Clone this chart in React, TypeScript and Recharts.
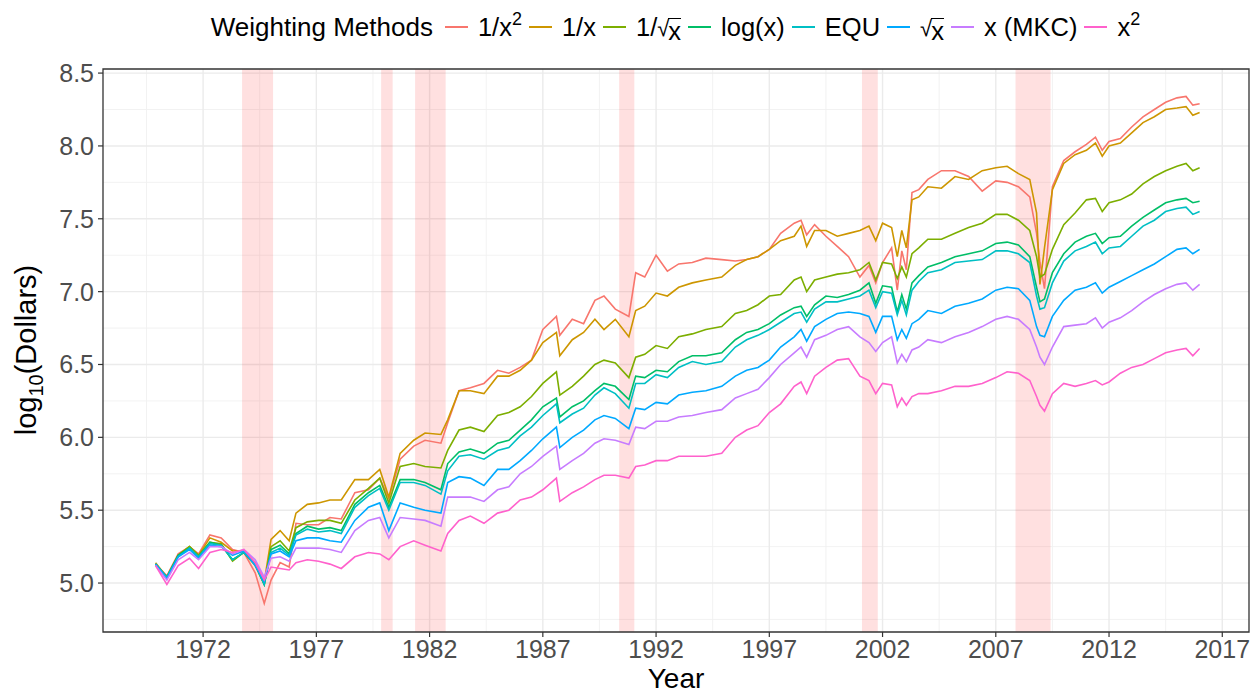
import React from "react";
import {
  LineChart,
  Line,
  XAxis,
  YAxis,
  CartesianGrid,
  ReferenceArea,
  Legend,
} from "recharts";

const FONT = '"Liberation Sans", Arial, Helvetica, sans-serif';

// time axis, in the axis' own year units
const years = [
  1969.9, 1970.4, 1970.9, 1971.4, 1971.8, 1972.3, 1972.8, 1973.3, 1973.8, 1974.3,
  1974.7, 1975.0, 1975.4, 1975.8, 1976.1, 1976.6, 1977.1, 1977.6, 1978.1, 1978.7,
  1979.3, 1979.8, 1980.2, 1980.7, 1981.3, 1981.8, 1982.5, 1982.8, 1983.3, 1983.8,
  1984.4, 1985.0, 1985.5, 1986.0, 1986.5, 1987.0, 1987.6, 1987.75, 1988.3, 1988.8,
  1989.3, 1989.7, 1990.2, 1990.8, 1991.1, 1991.5, 1992.0, 1992.5, 1993.0, 1993.6,
  1994.2, 1994.9, 1995.5, 1996.0, 1996.5, 1997.0, 1997.5, 1998.1, 1998.4, 1998.65,
  1999.0, 1999.5, 2000.0, 2000.5, 2001.0, 2001.4, 2001.7, 2002.0, 2002.4, 2002.65,
  2002.85, 2003.05, 2003.3, 2003.6, 2004.0, 2004.6, 2005.2, 2005.8, 2006.4, 2007.0,
  2007.5, 2008.0, 2008.5, 2008.8, 2008.95, 2009.15, 2009.5, 2010.0, 2010.5, 2011.0,
  2011.4, 2011.7, 2012.0, 2012.5, 2013.0, 2013.5, 2014.0, 2014.5, 2015.0, 2015.4,
  2015.7, 2016.0,
];

const invSquare = [
  5.13, 5.05, 5.2, 5.25, 5.2, 5.33, 5.31, 5.23, 5.21, 5.07,
  4.86, 5.02, 5.14, 5.11, 5.41, 5.4, 5.4, 5.45, 5.44, 5.62,
  5.64, 5.72, 5.58, 5.85, 5.94, 5.98, 5.96, 6.1, 6.32, 6.34,
  6.37, 6.46, 6.44, 6.48, 6.53, 6.74, 6.83, 6.7, 6.81, 6.78,
  6.94, 6.97, 6.88, 6.83, 7.13, 7.1, 7.25, 7.14, 7.19, 7.2,
  7.23, 7.22, 7.21, 7.22, 7.24, 7.29, 7.4, 7.47, 7.49, 7.39,
  7.46, 7.38, 7.31, 7.24, 7.1, 7.18, 7.06, 7.2, 7.3, 7.01,
  7.28, 7.15, 7.68, 7.7, 7.77, 7.83, 7.83, 7.79, 7.69, 7.76,
  7.75, 7.72, 7.65, 7.4, 7.2, 7.02, 7.72, 7.9, 7.96, 8.01,
  8.06, 7.97, 8.03, 8.05, 8.13, 8.2, 8.25, 8.3, 8.33, 8.34,
  8.28, 8.29,
];

const inverse = [
  5.14, 5.04, 5.19, 5.25, 5.19, 5.31, 5.28, 5.22, 5.22, 5.14,
  5.01, 5.3, 5.36, 5.29, 5.48, 5.54, 5.55, 5.57, 5.57, 5.71,
  5.71, 5.78, 5.59, 5.89, 5.98, 6.03, 6.02, 6.12, 6.32, 6.32,
  6.3, 6.42, 6.42, 6.46, 6.53, 6.65, 6.72, 6.56, 6.67, 6.72,
  6.81, 6.74, 6.81, 6.69, 6.87, 6.9, 6.99, 6.97, 7.03, 7.06,
  7.08, 7.1, 7.18, 7.22, 7.24, 7.29, 7.35, 7.38, 7.45, 7.31,
  7.42, 7.42, 7.38, 7.4, 7.42, 7.45, 7.35, 7.47, 7.44, 7.24,
  7.42, 7.3, 7.63, 7.65, 7.72, 7.71, 7.79, 7.77, 7.83, 7.85,
  7.86, 7.81, 7.77, 7.54, 7.05, 7.3, 7.7, 7.88, 7.94, 7.97,
  8.02, 7.93, 8.0, 8.02, 8.09, 8.16, 8.2, 8.25, 8.26, 8.27,
  8.21, 8.23,
];

const invSqrt = [
  5.13, 5.04, 5.19, 5.25, 5.19, 5.28, 5.27, 5.15, 5.21, 5.12,
  4.99, 5.25, 5.29, 5.22, 5.38, 5.42, 5.43, 5.43, 5.41, 5.57,
  5.65, 5.72, 5.55, 5.8, 5.82, 5.8, 5.79, 5.91, 6.05, 6.07,
  6.04, 6.15, 6.17, 6.21, 6.28, 6.37, 6.45, 6.29, 6.35, 6.42,
  6.5, 6.53, 6.51, 6.41, 6.55, 6.57, 6.63, 6.61, 6.69, 6.71,
  6.74, 6.76, 6.85, 6.87, 6.91, 6.97, 6.98, 7.08, 7.1, 7.0,
  7.08, 7.1, 7.12, 7.13, 7.15, 7.2, 7.08, 7.2, 7.19, 7.09,
  7.17, 7.1, 7.26, 7.3, 7.36, 7.36, 7.4, 7.44, 7.47, 7.53,
  7.53, 7.49, 7.42, 7.24, 7.1, 7.12, 7.29, 7.46, 7.54, 7.63,
  7.64, 7.55, 7.61, 7.63, 7.67, 7.74, 7.79, 7.83, 7.86, 7.88,
  7.83, 7.85,
];

const logW = [
  5.13, 5.04, 5.19, 5.24, 5.18, 5.28, 5.26, 5.16, 5.21, 5.13,
  4.99, 5.23, 5.26, 5.2, 5.34, 5.39, 5.37, 5.38, 5.36, 5.54,
  5.62, 5.67, 5.52, 5.71, 5.71, 5.69, 5.64, 5.82, 5.9, 5.92,
  5.89, 5.96, 5.98, 6.05, 6.12, 6.21, 6.27, 6.14, 6.21, 6.25,
  6.32, 6.37, 6.35, 6.26, 6.42, 6.41, 6.46, 6.45, 6.52, 6.56,
  6.56, 6.58, 6.67, 6.72, 6.74, 6.78, 6.84, 6.89, 6.9, 6.83,
  6.91, 6.97, 6.96, 6.98, 7.01, 7.06, 6.92, 7.04, 7.03, 6.86,
  6.98, 6.88, 7.06, 7.11, 7.17, 7.2, 7.24, 7.26, 7.28, 7.33,
  7.34, 7.32, 7.24, 7.03, 6.93, 6.95, 7.13, 7.26, 7.34, 7.38,
  7.4, 7.33, 7.37, 7.38, 7.45, 7.51, 7.56, 7.61, 7.63, 7.64,
  7.61, 7.62,
];

const equal = [
  5.13, 5.04, 5.18, 5.24, 5.18, 5.27, 5.26, 5.16, 5.21, 5.13,
  4.99, 5.21, 5.24, 5.19, 5.33, 5.37, 5.35, 5.36, 5.34, 5.52,
  5.6, 5.65, 5.5, 5.69, 5.69, 5.67, 5.61, 5.77, 5.87, 5.88,
  5.85, 5.91, 5.93, 6.01, 6.07, 6.15, 6.23, 6.1, 6.16, 6.2,
  6.29, 6.34, 6.3, 6.2, 6.37, 6.37, 6.43, 6.41, 6.48, 6.52,
  6.5, 6.52, 6.62, 6.67, 6.7, 6.74, 6.79, 6.85, 6.86, 6.79,
  6.88, 6.93, 6.93, 6.95, 6.97, 7.01, 6.89, 7.0, 6.99, 6.84,
  6.94, 6.84, 7.01, 7.07, 7.13, 7.15, 7.2, 7.21, 7.22, 7.28,
  7.28, 7.26, 7.2, 6.97, 6.88, 6.89, 7.06, 7.21, 7.28, 7.31,
  7.34, 7.26, 7.3, 7.31, 7.38, 7.45, 7.49, 7.55, 7.57, 7.58,
  7.53, 7.55,
];

const sqrtW = [
  5.13, 5.03, 5.18, 5.23, 5.17, 5.26, 5.25, 5.19, 5.22, 5.12,
  5.01, 5.2, 5.22, 5.18, 5.29, 5.31, 5.31, 5.29, 5.28, 5.43,
  5.52, 5.55, 5.36, 5.55, 5.52, 5.5, 5.48, 5.69, 5.73, 5.72,
  5.67, 5.78, 5.78, 5.84, 5.91, 5.99, 6.07, 5.93, 6.0, 6.05,
  6.12, 6.15, 6.13, 6.06, 6.2, 6.19, 6.24, 6.23, 6.29, 6.31,
  6.32, 6.35, 6.42, 6.46, 6.48, 6.53, 6.62, 6.69, 6.74, 6.66,
  6.76, 6.81, 6.85, 6.86, 6.85, 6.83, 6.72, 6.83, 6.83, 6.67,
  6.74, 6.68, 6.78, 6.81, 6.87, 6.85, 6.9, 6.92, 6.95, 7.01,
  7.03, 7.02, 6.94, 6.76, 6.7, 6.69, 6.83, 6.94, 7.01, 7.03,
  7.06, 6.99, 7.03, 7.07, 7.11, 7.15, 7.19, 7.24, 7.29, 7.3,
  7.26, 7.29,
];

const marketCap = [
  5.12, 5.02, 5.16, 5.21, 5.16, 5.25, 5.25, 5.2, 5.23, 5.16,
  5.04, 5.17, 5.18, 5.15, 5.24, 5.24, 5.24, 5.23, 5.21, 5.36,
  5.43, 5.45, 5.31, 5.45, 5.44, 5.43, 5.39, 5.59, 5.59, 5.59,
  5.56, 5.64, 5.66, 5.75, 5.8, 5.87, 5.94, 5.78, 5.84, 5.89,
  5.96, 5.99, 5.98, 5.95, 6.07, 6.06, 6.11, 6.11, 6.14, 6.15,
  6.17, 6.19, 6.27, 6.3, 6.33, 6.41, 6.5, 6.58, 6.62, 6.55,
  6.67, 6.7, 6.74, 6.76, 6.69, 6.65, 6.59, 6.65, 6.69, 6.51,
  6.57, 6.52, 6.6, 6.62, 6.67, 6.65, 6.69, 6.72, 6.76, 6.81,
  6.83, 6.81, 6.74, 6.62, 6.55, 6.5, 6.62, 6.76, 6.77, 6.78,
  6.82, 6.75, 6.79, 6.82, 6.87, 6.93, 6.98, 7.02, 7.05, 7.06,
  7.01, 7.05,
];

const square = [
  5.12, 4.99, 5.12, 5.17, 5.1, 5.21, 5.23, 5.21, 5.23, 5.14,
  5.02, 5.11, 5.1, 5.09, 5.14, 5.16, 5.15, 5.13, 5.1, 5.18,
  5.21, 5.2, 5.16, 5.25, 5.29, 5.26, 5.22, 5.34, 5.43, 5.46,
  5.41, 5.48, 5.5, 5.57, 5.59, 5.64, 5.72, 5.56, 5.62, 5.66,
  5.71, 5.74, 5.74, 5.72, 5.8, 5.81, 5.84, 5.84, 5.87, 5.87,
  5.87, 5.89, 6.0, 6.05, 6.08, 6.17, 6.23, 6.35, 6.38, 6.3,
  6.42, 6.48, 6.53, 6.54, 6.42, 6.39, 6.3, 6.37, 6.36, 6.21,
  6.27, 6.22, 6.28, 6.3, 6.3, 6.32, 6.35, 6.35, 6.37, 6.41,
  6.45, 6.44, 6.39, 6.28, 6.22, 6.18, 6.3, 6.37, 6.35, 6.37,
  6.39, 6.36, 6.38, 6.44, 6.48, 6.5, 6.54, 6.58, 6.6, 6.61,
  6.56, 6.61,
];

// recession shading (start / end in axis years)
const recessionStart = [1973.72, 1979.86, 1981.36, 1990.37, 2001.09, 2007.87];
const recessionEnd = [1975.09, 1980.37, 1982.71, 1991.04, 2001.79, 2009.42];

const xTicks = [1972, 1977, 1982, 1987, 1992, 1997, 2002, 2007, 2012, 2017];
const xMinor = [1969.5, 1974.5, 1979.5, 1984.5, 1989.5, 1994.5, 1999.5, 2004.5, 2009.5, 2014.5];
const yTicks = [5, 5.5, 6, 6.5, 7, 7.5, 8, 8.5];
const yMinor = [4.75, 5.25, 5.75, 6.25, 6.75, 7.25, 7.75, 8.25];

const X_DOMAIN: [number, number] = [1967.58, 2018.18];
const Y_DOMAIN: [number, number] = [4.664, 8.528];

const series = [
  { key: "invSquare", color: "#F8766D", values: invSquare },
  { key: "inverse", color: "#CD9600", values: inverse },
  { key: "invSqrt", color: "#7CAE00", values: invSqrt },
  { key: "logW", color: "#00BE67", values: logW },
  { key: "equal", color: "#00BFC4", values: equal },
  { key: "sqrtW", color: "#00A9FF", values: sqrtW },
  { key: "marketCap", color: "#C77CFF", values: marketCap },
  { key: "square", color: "#FF61CC", values: square },
];

const data = years.map((t, i) => {
  const row: Record<string, number> = { t };
  series.forEach((s) => {
    row[s.key] = s.values[i];
  });
  return row;
});

const Sqrt = ({ children }: { children: React.ReactNode }) => (
  <span style={{ display: "inline-flex", alignItems: "flex-end" }}>
    <span style={{ fontSize: 22, marginRight: -1 }}>√</span>
    <span style={{ borderTop: "1.5px solid #000", lineHeight: "22px", paddingTop: 1 }}>{children}</span>
  </span>
);

const Sup = ({ children }: { children: React.ReactNode }) => (
  <span style={{ fontSize: 18, position: "relative", top: -11 }}>{children}</span>
);

const labels: Record<string, React.ReactNode> = {
  invSquare: <>1/x<Sup>2</Sup></>,
  inverse: <>1/x</>,
  invSqrt: <>1/<Sqrt>x</Sqrt></>,
  logW: <>log(x)</>,
  equal: <>EQU</>,
  sqrtW: <Sqrt>x</Sqrt>,
  marketCap: <>x (MKC)</>,
  square: <>x<Sup>2</Sup></>,
};

function WeightLegend() {
  return (
    <div
      style={{
        display: "flex",
        justifyContent: "center",
        alignItems: "center",
        fontFamily: FONT,
        color: "#000",
        height: 44,
        paddingLeft: 6,
      }}
    >
      <span style={{ fontSize: 26, marginRight: 12 }}>Weighting Methods</span>
      {series.map((s) => (
        <span key={s.key} style={{ display: "inline-flex", alignItems: "center", marginRight: 7 }}>
          <svg width={23} height={4} style={{ marginRight: 10 }}>
            <line x1={0} y1={2} x2={23} y2={2} stroke={s.color} strokeWidth={2} />
          </svg>
          <span style={{ fontSize: 25.5, whiteSpace: "nowrap" }}>{labels[s.key]}</span>
        </span>
      ))}
    </div>
  );
}

const tickStyle = { fontSize: 25, fill: "#4d4d4d", fontFamily: FONT };

export default function App() {
  return (
    <div style={{ position: "absolute", left: 0, top: 0, background: "#fff" }}>
      <LineChart
        width={1252}
        height={694}
        data={data}
        margin={{ top: 69, right: 3, bottom: 32, left: 0 }}
      >
        <CartesianGrid
          stroke="#f0f0f0"
          strokeWidth={0.9}
          verticalValues={xMinor}
          horizontalValues={yMinor}
        />
        <CartesianGrid
          stroke="#ebebeb"
          strokeWidth={1.4}
          verticalValues={xTicks}
          horizontalValues={yTicks}
        />
        {recessionStart.map((x1, i) => (
          <ReferenceArea
            key={x1}
            x1={x1}
            x2={recessionEnd[i]}
            y1={Y_DOMAIN[0]}
            y2={Y_DOMAIN[1]}
            fill="#ff0000"
            fillOpacity={0.12}
            stroke="none"
            ifOverflow="hidden"
          />
        ))}
        <XAxis
          dataKey="t"
          type="number"
          domain={X_DOMAIN}
          ticks={xTicks}
          interval={0}
          allowDataOverflow
          axisLine={false}
          tickLine={{ stroke: "#333333", strokeWidth: 1.2 }}
          tickSize={5}
          tickMargin={3}
          height={30}
          tick={tickStyle}
          label={{
            content: () => (
              <text x={676} y={688} textAnchor="middle" fontSize={28} fontFamily={FONT} fill="#000">
                Year
              </text>
            ),
          }}
        />
        <YAxis
          type="number"
          domain={Y_DOMAIN}
          ticks={yTicks}
          interval={0}
          allowDataOverflow
          width={103}
          axisLine={false}
          tickLine={{ stroke: "#333333", strokeWidth: 1.2 }}
          tickSize={5}
          tickMargin={4}
          tick={tickStyle}
          tickFormatter={(v: number) => v.toFixed(1)}
          label={{
            content: () => (
              <text
                transform="translate(36,350) rotate(-90)"
                textAnchor="middle"
                fontSize={29}
                fontFamily={FONT}
                fill="#000"
              >
                log
                <tspan fontSize={20} dy={7}>10</tspan>
                <tspan dy={-7}>(Dollars)</tspan>
              </text>
            ),
          }}
        />
        <Legend
          verticalAlign="middle"
          layout="horizontal"
          wrapperStyle={{ top: 5, left: 103, width: 1146 }}
          content={() => <WeightLegend />}
        />
        {series.map((s) => (
          <Line
            key={s.key}
            type="linear"
            dataKey={s.key}
            stroke={s.color}
            strokeWidth={1.6}
            dot={false}
            activeDot={false}
            isAnimationActive={false}
          />
        ))}
        <ReferenceArea
          x1={X_DOMAIN[0]}
          x2={X_DOMAIN[1]}
          y1={Y_DOMAIN[0]}
          y2={Y_DOMAIN[1]}
          fill="none"
          stroke="#333333"
          strokeWidth={1.3}
          ifOverflow="visible"
        />
      </LineChart>
    </div>
  );
}
